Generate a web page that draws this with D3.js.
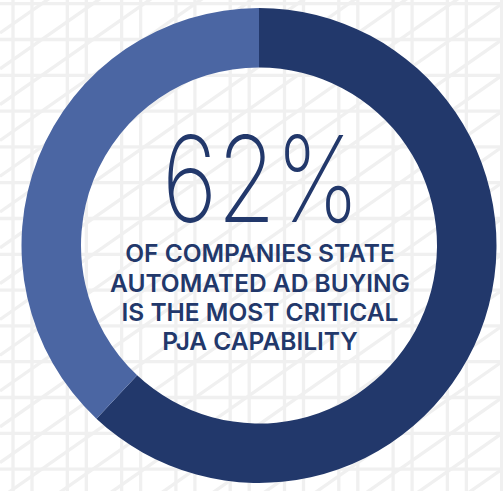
<!DOCTYPE html>
<html>
<head>
<meta charset="utf-8">
<script src="https://cdn.jsdelivr.net/npm/d3@7"></script>
<style>
  html, body { margin: 0; padding: 0; background: #ffffff; }
  svg { display: block; }
</style>
</head>
<body>
<svg id="chart"></svg>
<script>
'use strict';

// data
var categories = ["Automated ad buying is most critical", "Other"];
var values = [62, 38];
var headline = "62%";
var captionLines = ["OF COMPANIES STATE", "AUTOMATED AD BUYING", "IS THE MOST CRITICAL", "PJA CAPABILITY"];

var colors = {
    dark: "#22386b",
    light: "#4b66a3",
    grid: "#f0f0f0"
};

var width = 503,
    height = 491;

var svg = d3.select("#chart")
    .attr("width", width)
    .attr("height", height);

// background grid pattern
var bg = svg.append("g").attr("class", "bg");
var colStep = 54.3, rowStep = 35.8;

d3.range(0, 10).forEach(function(k) {
    [13, 32].forEach(function(off) {
        var x = off + colStep * k;
        bg.append("line")
          .attr("x1", x).attr("x2", x)
          .attr("y1", 0).attr("y2", height)
          .attr("stroke", colors.grid).attr("stroke-width", 3.3);
    });
});

d3.range(0, 15).forEach(function(k) {
    var y = 3.7 + rowStep * k;
    bg.append("line")
      .attr("x1", 0).attr("x2", width)
      .attr("y1", y).attr("y2", y)
      .attr("stroke", colors.grid).attr("stroke-width", 3.3);
});

// diagonals going up to the right
var slope = 0.7;
d3.range(-2, 26).forEach(function(k) {
    var b = 33 + rowStep * k;
    bg.append("line")
      .attr("x1", 0).attr("y1", b)
      .attr("x2", width).attr("y2", b - slope * width)
      .attr("stroke", colors.grid).attr("stroke-width", 3.3);
});

// donut
var cx = 259, cy = 245.5;
var outerR = 237.5, innerR = 178;

var pie = d3.pie().sort(null).value(function(d) { return d; });
var arc = d3.arc().innerRadius(innerR).outerRadius(outerR);
var color = d3.scaleOrdinal().domain(categories).range([colors.dark, colors.light]);

var g = svg.append("g").attr("transform", "translate(" + cx + "," + cy + ")");

g.selectAll("path.slice")
  .data(pie(values))
  .enter().append("path")
  .attr("class", "slice")
  .attr("d", arc)
  .attr("fill", function(d, i) { return color(categories[i]); });

// headline number
g.append("text")
  .attr("x", 2)
  .attr("y", 222 - cy)
  .attr("text-anchor", "middle")
  .attr("font-family", "Inter, 'Noto Sans', sans-serif")
  .attr("font-weight", 200)
  .attr("font-size", 119)
  .attr("textLength", 198)
  .attr("lengthAdjust", "spacingAndGlyphs")
  .attr("fill", colors.dark)
  .text(headline);

// caption
var baselines = [262, 291.5, 320.5, 350];
g.selectAll("text.caption")
  .data(captionLines)
  .enter().append("text")
  .attr("class", "caption")
  .attr("x", 1)
  .attr("y", function(d, i) { return baselines[i] - cy; })
  .attr("text-anchor", "middle")
  .attr("font-family", "Inter, 'Noto Sans', sans-serif")
  .attr("font-weight", 600)
  .attr("font-size", 24.5)
  .attr("fill", colors.dark)
  .text(function(d) { return d; });
</script>
</body>
</html>
